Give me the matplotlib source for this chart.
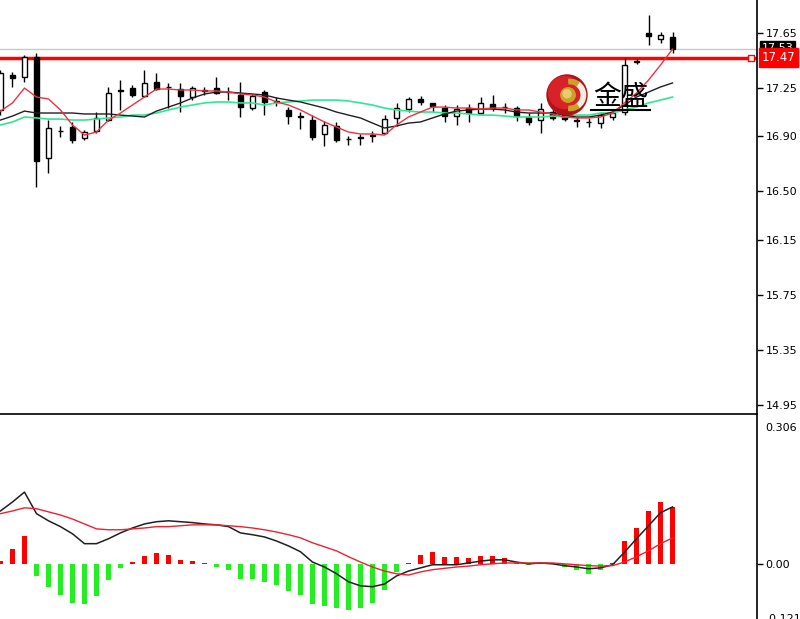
import numpy as np
from matplotlib import pyplot as plt
from matplotlib.patches import Circle, Wedge
from matplotlib.lines import Line2D
import matplotlib.transforms as mtransforms

plt.rcParams['font.family'] = ['DejaVu Sans']

# candles (open, high, low, close), oldest first
opens = [17.091, 17.345, 17.330, 17.475, 16.742, 16.938, 16.967, 16.888, 16.938, 17.018,
         17.229, 17.250, 17.192, 17.294, 17.261, 17.243, 17.185, 17.236, 17.250, 17.221,
         17.200, 17.105, 17.221, 17.153, 17.091, 17.044, 17.018, 16.917, 16.975, 16.880,
         16.895, 16.906, 16.924, 17.033, 17.098, 17.171, 17.142, 17.105, 17.047, 17.105,
         17.069, 17.134, 17.116, 17.105, 17.040, 17.018, 17.076, 17.054, 17.015, 17.007,
         16.996, 17.040, 17.076, 17.439, 17.646, 17.606, 17.620]
highs = [17.381, 17.366, 17.490, 17.504, 17.018, 16.975, 17.004, 16.946, 17.076, 17.258,
         17.308, 17.272, 17.381, 17.359, 17.287, 17.287, 17.265, 17.258, 17.330, 17.258,
         17.294, 17.207, 17.236, 17.185, 17.112, 17.076, 17.054, 17.011, 17.004, 16.902,
         16.917, 16.938, 17.054, 17.142, 17.185, 17.192, 17.145, 17.127, 17.127, 17.134,
         17.185, 17.200, 17.142, 17.120, 17.069, 17.142, 17.098, 17.076, 17.040, 17.033,
         17.076, 17.091, 17.468, 17.461, 17.780, 17.657, 17.657]
lows = [17.054, 17.258, 17.294, 16.532, 16.634, 16.895, 16.851, 16.873, 16.924, 17.011,
        17.091, 17.185, 17.185, 17.236, 17.105, 17.076, 17.163, 17.200, 17.207, 17.163,
        17.040, 17.091, 17.054, 17.120, 16.989, 16.953, 16.873, 16.829, 16.858, 16.837,
        16.837, 16.858, 16.917, 16.975, 17.076, 17.127, 17.076, 17.004, 16.982, 17.004,
        17.062, 17.083, 17.069, 17.011, 16.982, 16.924, 17.018, 17.011, 16.967, 16.967,
        16.960, 17.018, 17.054, 17.425, 17.562, 17.577, 17.504]
closes = [17.359, 17.323, 17.475, 16.721, 16.960, 16.935, 16.873, 16.931, 17.033, 17.214,
          17.236, 17.200, 17.287, 17.243, 17.258, 17.192, 17.250, 17.232, 17.214, 17.218,
          17.112, 17.192, 17.149, 17.149, 17.047, 17.040, 16.895, 16.982, 16.873, 16.877,
          16.891, 16.902, 17.025, 17.105, 17.171, 17.149, 17.120, 17.047, 17.098, 17.069,
          17.142, 17.105, 17.112, 17.047, 17.004, 17.098, 17.033, 17.025, 17.011, 17.004,
          17.054, 17.069, 17.417, 17.443, 17.628, 17.635, 17.533]

ma_fast = [17.083, 17.142, 17.250, 17.185, 17.171, 17.091, 16.982, 16.909, 16.931, 17.018,
           17.069, 17.127, 17.185, 17.243, 17.243, 17.236, 17.236, 17.229, 17.229, 17.221,
           17.207, 17.200, 17.185, 17.149, 17.127, 17.091, 17.047, 17.004, 16.967, 16.931,
           16.917, 16.917, 16.909, 16.982, 17.040, 17.076, 17.112, 17.112, 17.105, 17.105,
           17.098, 17.105, 17.105, 17.091, 17.091, 17.076, 17.062, 17.040, 17.033, 17.033,
           17.040, 17.069, 17.142, 17.214, 17.308, 17.417, 17.533]
ma_mid = [17.018, 17.047, 17.083, 17.069, 17.069, 17.069, 17.069, 17.062, 17.062, 17.062,
          17.054, 17.047, 17.040, 17.083, 17.112, 17.142, 17.178, 17.207, 17.221, 17.221,
          17.214, 17.207, 17.200, 17.178, 17.163, 17.149, 17.127, 17.105, 17.076, 17.054,
          17.033, 16.996, 16.960, 16.975, 16.996, 17.004, 17.033, 17.062, 17.083, 17.091,
          17.098, 17.098, 17.091, 17.076, 17.069, 17.069, 17.069, 17.054, 17.040, 17.040,
          17.054, 17.076, 17.127, 17.185, 17.221, 17.258, 17.287]
ma_slow = [16.982, 17.004, 17.040, 17.033, 17.025, 17.025, 17.018, 17.018, 17.025, 17.033,
           17.040, 17.054, 17.054, 17.069, 17.091, 17.112, 17.127, 17.142, 17.149, 17.149,
           17.142, 17.142, 17.127, 17.142, 17.149, 17.156, 17.163, 17.163, 17.163, 17.156,
           17.142, 17.127, 17.105, 17.091, 17.083, 17.076, 17.076, 17.069, 17.069, 17.062,
           17.054, 17.054, 17.047, 17.040, 17.040, 17.040, 17.047, 17.040, 17.054, 17.054,
           17.069, 17.069, 17.091, 17.112, 17.142, 17.163, 17.185]

macd_hist = [0.007, 0.033, 0.063, -0.027, -0.051, -0.069, -0.087, -0.089, -0.071, -0.036,
             -0.009, 0.004, 0.018, 0.025, 0.020, 0.009, 0.006, 0.002, -0.006, -0.013,
             -0.033, -0.033, -0.040, -0.047, -0.060, -0.069, -0.089, -0.094, -0.098, -0.103,
             -0.098, -0.087, -0.058, -0.018, 0.003, 0.020, 0.026, 0.016, 0.016, 0.013,
             0.018, 0.018, 0.013, 0.003, -0.003, 0.001, 0.001, -0.007, -0.013, -0.022,
             -0.013, 0.001, 0.051, 0.080, 0.118, 0.138, 0.127]
macd_line = [0.118, 0.138, 0.160, 0.112, 0.096, 0.083, 0.067, 0.045, 0.045, 0.056,
             0.069, 0.080, 0.089, 0.094, 0.096, 0.094, 0.092, 0.089, 0.087, 0.083,
             0.069, 0.065, 0.060, 0.051, 0.040, 0.027, 0.004, -0.007, -0.022, -0.040,
             -0.049, -0.051, -0.045, -0.027, -0.016, -0.009, -0.002, -0.002, -0.002, 0.002,
             0.006, 0.009, 0.009, 0.004, 0.000, 0.002, 0.000, -0.004, -0.007, -0.011,
             -0.009, -0.002, 0.026, 0.056, 0.085, 0.114, 0.127]
macd_signal = [0.112, 0.118, 0.125, 0.123, 0.116, 0.109, 0.100, 0.089, 0.078, 0.076,
               0.076, 0.078, 0.080, 0.083, 0.083, 0.085, 0.087, 0.087, 0.087, 0.085,
               0.083, 0.080, 0.076, 0.071, 0.065, 0.058, 0.047, 0.038, 0.029, 0.016,
               0.004, -0.007, -0.016, -0.022, -0.025, -0.018, -0.013, -0.010, -0.007, -0.005,
               -0.002, 0.000, 0.002, 0.002, 0.002, 0.002, 0.002, 0.000, -0.002, -0.004,
               -0.005, -0.004, 0.004, 0.016, 0.029, 0.045, 0.058]

price_ticks = [17.65, 17.25, 16.90, 16.50, 16.15, 15.75, 15.35, 14.95]
level_price = 17.47
bid_price = 17.53


def draw_candles(ax, x):
    o = np.array(opens)
    c = np.array(closes)
    up = c >= o
    ax.vlines(x, lows, highs, color='black', lw=1, zorder=3)
    body_lo = np.minimum(o, c)
    body_h = np.maximum(np.abs(c - o), 0.002)
    ax.bar(x[up], body_h[up], bottom=body_lo[up], width=0.45,
           color='white', edgecolor='black', lw=1, zorder=4)
    ax.bar(x[~up], body_h[~up], bottom=body_lo[~up], width=0.45,
           color='black', edgecolor='black', lw=1, zorder=4)


def draw_logo(fig):
    lax = fig.add_axes([0.6825, 0.8126, 0.0525, 0.0679])
    lax.set_xlim(-1.05, 1.05)
    lax.set_ylim(-1.05, 1.05)
    lax.set_aspect('equal')
    lax.axis('off')
    lax.add_patch(Circle((0, 0), 1.0, color='#b0121a'))
    lax.add_patch(Circle((-0.12, 0.12), 0.8, color='#d8222a'))
    lax.add_patch(Wedge((0.15, 0), 0.78, -55, 55, width=0.22, color='#f4eee0'))
    lax.add_patch(Wedge((0.15, 0), 0.78, 55, 95, width=0.22, color='#c9a227'))
    lax.add_patch(Wedge((0.15, 0), 0.78, -95, -55, width=0.22, color='#c9a227'))
    lax.add_patch(Circle((0.05, 0.0), 0.36, color='#c9a227'))
    lax.add_patch(Circle((0.0, 0.06), 0.2, color='#e6cc6a'))
    fig.text(0.776, 0.843, '金盛', fontsize=20, ha='center', va='center',
             family=['Noto Sans CJK SC', 'DejaVu Sans'], color='black')
    fig.add_artist(Line2D([0.739, 0.813], [0.822, 0.822], color='black', lw=1.5))


def main():
    fig = plt.figure(figsize=(8, 6.19), dpi=100)
    w = 757 / 800
    ax = fig.add_axes([0, 205 / 619, w, 414 / 619])
    mx = fig.add_axes([0, 0, w, 204 / 619])

    x = np.arange(len(closes))

    # price panel
    ax.axhline(bid_price, color='#c8c8c8', lw=1, zorder=1)
    ax.axhline(level_price, color='#ff0000', lw=2.5, zorder=2)
    ax.plot(x, ma_slow, color='#2ee890', lw=1.2, zorder=5)
    ax.plot(x, ma_mid, color='#202020', lw=1.0, zorder=5)
    ax.plot(x, ma_fast, color='#f03040', lw=1.0, zorder=5)
    draw_candles(ax, x)
    ax.plot([62.5], [level_price], marker='s', ms=4, mfc='white', mec='#ff0000', mew=1, zorder=6)

    ax.set_xlim(-0.04, 63.04)
    ax.set_ylim(14.885, 17.889)
    ax.set_xticks([])
    ax.yaxis.tick_right()
    ax.set_yticks(price_ticks)
    ax.set_yticklabels([f'{t:.2f}' for t in price_ticks])
    ax.tick_params(axis='y', direction='out', length=4, width=1, labelsize=8, pad=2)
    for side in ['top', 'left']:
        ax.spines[side].set_visible(False)
    ax.spines['right'].set_linewidth(1.2)
    ax.spines['bottom'].set_linewidth(1.2)

    trans = mtransforms.blended_transform_factory(ax.transAxes, ax.transData)
    ax.text(1.006, bid_price + 0.012, f'{bid_price:.2f}', transform=trans, fontsize=8,
            color='white', va='center', ha='left',
            bbox=dict(boxstyle='square,pad=0.15', fc='black', ec='black'), clip_on=False)
    ax.text(1.006, level_price, f'{level_price:.2f}', transform=trans, fontsize=8.5,
            color='white', va='center', ha='left',
            bbox=dict(boxstyle='square,pad=0.25', fc='#ff0000', ec='#ff0000'), clip_on=False)

    # macd panel
    hist = np.array(macd_hist)
    colors = np.where(hist >= 0, '#ff0000', '#22ee22')
    mx.bar(x, hist, width=0.45, color=colors, lw=0, zorder=2)
    mx.plot(x, macd_line, color='#202020', lw=1.1, zorder=3)
    mx.plot(x, macd_signal, color='#f02030', lw=1.0, zorder=3)
    mx.set_xlim(-0.04, 63.04)
    mx.set_ylim(-0.123, 0.332)
    mx.set_xticks([])
    mx.yaxis.tick_right()
    mx.set_yticks([0.0])
    mx.set_yticklabels(['0.00'])
    mx.set_yticks([0.306, -0.121], minor=True)
    mx.set_yticklabels(['0.306', '-0.121'], minor=True)
    mx.tick_params(axis='y', which='major', direction='out', length=4, width=1, labelsize=8, pad=2)
    mx.tick_params(axis='y', which='minor', length=0, labelsize=8, pad=6)
    for side in ['top', 'left', 'bottom']:
        mx.spines[side].set_visible(False)
    mx.spines['right'].set_linewidth(1.2)

    draw_logo(fig)

    fig.savefig('out.png', dpi=100)
    plt.close()


if __name__ == '__main__':
    main()
